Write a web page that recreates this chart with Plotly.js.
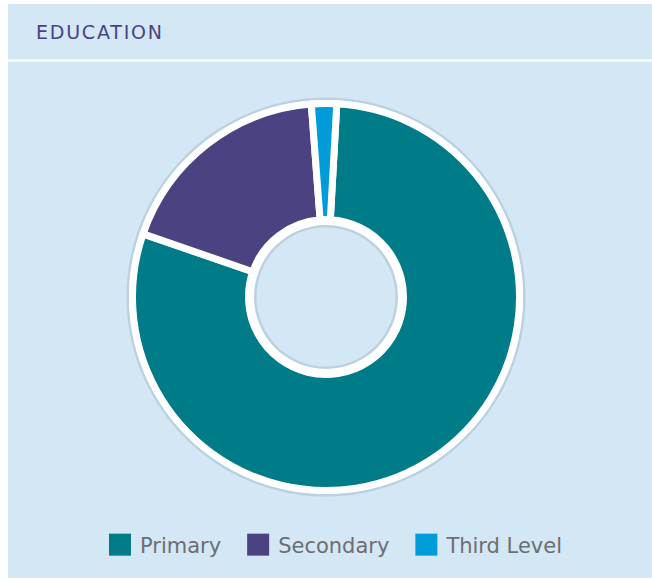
<!DOCTYPE html>
<html>
<head>
<meta charset="utf-8">
<script src="https://cdn.plot.ly/plotly-3.0.1.min.js"></script>
<style>html,body{margin:0;padding:0;background:#fff;}</style>
</head>
<body>
<div id="chart" style="width:652px;height:579px;"></div>
<script>
const chartTitle = 'EDUCATION';
const categories = ['Primary', 'Secondary', 'Third Level'];
const shares = [79.4, 18.5, 2.1];
const colors = ['#007c89', '#4b4282', '#009bd9'];

const W = 652, H = 579;
const cx = 326, cy = 297;
function dom(r) {
  return {
    x: [(cx - r) / W, (cx + r) / W],
    y: [1 - (cy + r) / H, 1 - (cy - r) / H]
  };
}
const rData = 193.5, rRing = 197, rShadow = 199.5;

const traces = [
  {
    type: 'pie', values: [1], labels: ['shadow'], showlegend: false,
    domain: dom(rShadow), hole: 69.5 / rShadow, sort: false,
    marker: {colors: ['rgba(110,130,150,0.22)'], line: {width: 0}},
    textinfo: 'none', hoverinfo: 'skip'
  },
  {
    type: 'pie', values: [1], labels: ['ring'], showlegend: false,
    domain: dom(rRing), hole: 72 / rRing, sort: false,
    marker: {colors: ['#ffffff'], line: {width: 0}},
    textinfo: 'none', hoverinfo: 'skip'
  },
  {
    type: 'pie', values: shares, labels: categories, sort: false,
    direction: 'clockwise', rotation: 3.2,
    domain: dom(rData), hole: 77.5 / rData,
    marker: {colors: colors, line: {color: '#ffffff', width: 7}},
    textinfo: 'none', hoverinfo: 'label+percent'
  }
];

const layout = {
  width: W, height: H,
  margin: {l: 0, r: 0, t: 0, b: 0},
  paper_bgcolor: '#ffffff',
  showlegend: true,
  legend: {
    orientation: 'h', x: 100 / W, xanchor: 'left',
    y: 1 - 545 / H, yanchor: 'middle',
    font: {family: 'DejaVu Sans, sans-serif', size: 21, color: '#6d6e71'},
    itemclick: false, itemdoubleclick: false, bgcolor: 'rgba(0,0,0,0)'
  },
  shapes: [
    {type: 'rect', xref: 'paper', yref: 'paper', x0: 8 / W, x1: 1, y0: 1 - 578 / H, y1: 1 - 4 / H,
     fillcolor: '#d3e7f5', line: {width: 0}, layer: 'below'},
    {type: 'line', xref: 'paper', yref: 'paper', x0: 8 / W, x1: 1, y0: 1 - 60.5 / H, y1: 1 - 60.5 / H,
     line: {color: '#ffffff', width: 2.5}, layer: 'below'}
  ],
  annotations: [
    {text: chartTitle, xref: 'paper', yref: 'paper', x: 42 / W, y: 1 - 32 / H,
     xanchor: 'left', yanchor: 'middle', showarrow: false,
     font: {family: 'DejaVu Sans, sans-serif', size: 19, color: '#4b4282'}}
  ]
};

Plotly.newPlot('chart', traces, layout, {displayModeBar: false}).then(function (gd) {
  gd.querySelectorAll('.legendpoints path').forEach(function (p) {
    p.setAttribute('d', 'M11,11H-11V-11H11Z');
    p.style.strokeWidth = '0';
  });
  const extraGap = 12;
  gd.querySelectorAll('.legend .traces').forEach(function (g, i) {
    const m = /translate\(([-\d.]+)[ ,]+([-\d.]+)\)/.exec(g.getAttribute('transform') || '');
    if (m) g.setAttribute('transform', 'translate(' + (parseFloat(m[1]) + extraGap * i) + ',' + m[2] + ')');
  });
  gd.querySelectorAll('.legend .scrollbox, .legend').forEach(function (el) { el.removeAttribute('clip-path'); });
  gd.querySelectorAll('.annotation-text').forEach(function (t) { t.style.letterSpacing = '1.8px'; });
});
</script>
</body>
</html>
